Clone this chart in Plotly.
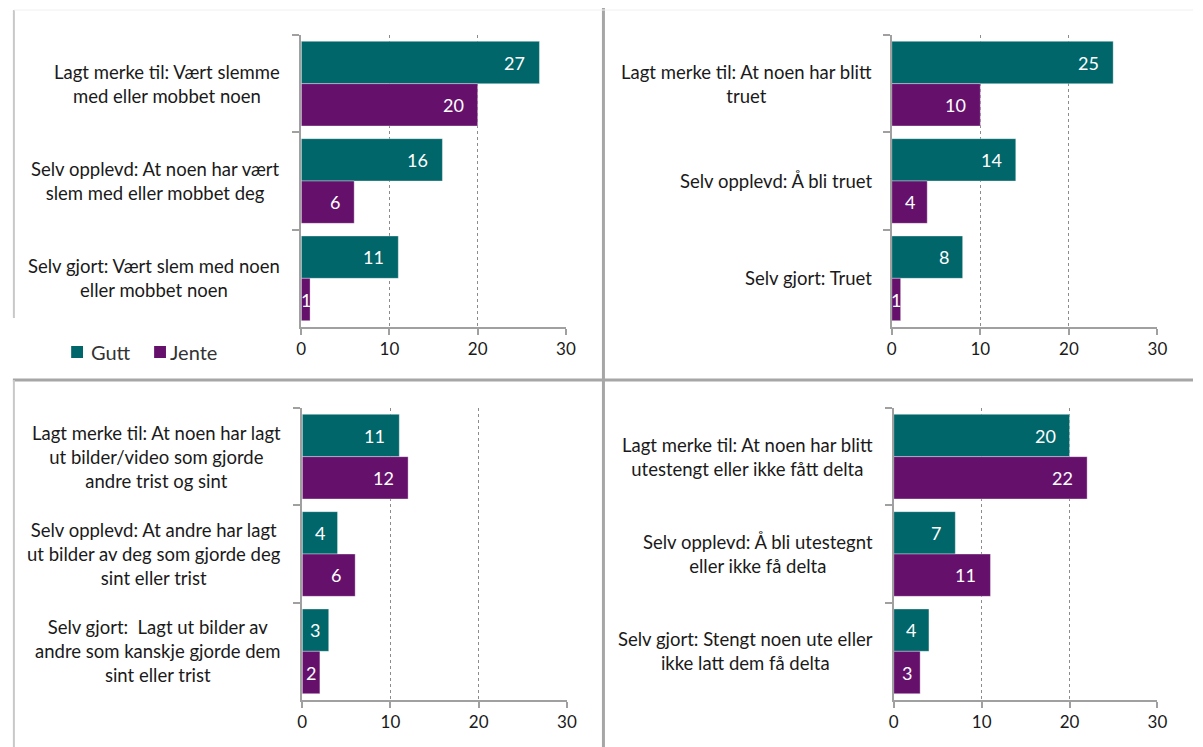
import plotly.graph_objects as go

# ---- data -------------------------------------------------------------
series_names = ["Gutt", "Jente"]
series_colors = ["#00666A", "#65116C"]

cats_a = ["Lagt merke til: Vært slemme<br>med eller mobbet noen",
          "Selv opplevd: At noen har vært<br>slem med eller mobbet deg",
          "Selv gjort: Vært slem med noen<br>eller mobbet noen"]
gutt_a = [27, 16, 11]
jente_a = [20, 6, 1]

cats_b = ["Lagt merke til: At noen har blitt<br>truet",
          "Selv opplevd: Å bli truet",
          "Selv gjort: Truet"]
gutt_b = [25, 14, 8]
jente_b = [10, 4, 1]

cats_c = ["Lagt merke til: At noen har lagt<br>ut bilder/video som gjorde<br>andre trist og sint",
          "Selv opplevd: At andre har lagt<br>ut bilder av deg som gjorde deg<br>sint eller trist",
          "Selv gjort:  Lagt ut bilder av<br>andre som kanskje gjorde dem<br>sint eller trist"]
gutt_c = [11, 4, 3]
jente_c = [12, 6, 2]

cats_d = ["Lagt merke til: At noen har blitt<br>utestengt eller ikke fått delta",
          "Selv opplevd: Å bli utestegnt<br>eller ikke få delta",
          "Selv gjort: Stengt noen ute eller<br>ikke latt dem få delta"]
gutt_d = [20, 7, 4]
jente_d = [22, 11, 3]

x_ticks = [0, 10, 20, 30]

# ---- layout geometry --------------------------------------------------
W, H = 1203, 747
FONT = "Lato"
TEXT = "#1a1a1a"
AXIS = "#a0a0a0"
BARGAP = 0.13


def px_x(p):
    return p / W


def px_y(p):
    return 1 - p / H


panels = [
    # (categories, gutt, jente, x-domain px, y-domain px, label right edge px)
    (cats_a, gutt_a, jente_a, (300, 568), (35, 327), 281),
    (cats_b, gutt_b, jente_b, (898, 1167), (35, 327), 880),
    (cats_c, gutt_c, jente_c, (301, 569), (408, 700), 282),
    (cats_d, gutt_d, jente_d, (900, 1167), (408, 700), 881),
]

fig = go.Figure()
annotations = []
half = (1 - BARGAP) / 4  # offset of each bar centre from the category centre

for i, (cats, gutt, jente, xd, yd, lab_x) in enumerate(panels, start=1):
    sfx = "" if i == 1 else str(i)
    for k, (name, color, vals) in enumerate(zip(series_names, series_colors, [gutt, jente])):
        fig.add_trace(go.Bar(
            x=vals, y=cats, orientation="h", name=name,
            marker=dict(color=color, line=dict(color="rgba(255,255,255,0.6)", width=0.6)),
            xaxis="x" + sfx, yaxis="y" + sfx, showlegend=False,
            hoverinfo="x+y",
        ))
        # value labels at the inner end of each bar
        off = -half if k == 0 else half
        for j, v in enumerate(vals):
            big = v >= 5
            annotations.append(dict(
                text=str(v), xref="x" + sfx, yref="y" + sfx,
                x=v if big else v / 2, y=j + off,
                xanchor="right" if big else "center", xshift=-12 if big else 0,
                yanchor="middle", showarrow=False,
                font=dict(family=FONT, size=18, color="white"),
            ))
    fig.layout["xaxis" + sfx] = dict(
        domain=[px_x(xd[0]), px_x(xd[1])], anchor="y" + sfx,
        range=[0, 30], tickvals=x_ticks, ticks="outside", ticklen=6,
        tickcolor=AXIS, tickwidth=2, showline=True, linecolor=AXIS, linewidth=2,
        showgrid=True, gridcolor="#8c8c8c", griddash="dot", gridwidth=1,
        zeroline=False, tickfont=dict(family=FONT, size=17, color=TEXT),
        fixedrange=True,
    )
    fig.layout["yaxis" + sfx] = dict(
        domain=[px_y(yd[1]), px_y(yd[0])], anchor="x" + sfx,
        type="category", categoryorder="array", categoryarray=cats,
        autorange="reversed", showticklabels=False,
        ticks="outside", tickson="boundaries", ticklen=7, tickcolor=AXIS,
        tickwidth=2, showline=True, linecolor=AXIS, linewidth=2,
        showgrid=False, zeroline=False, fixedrange=True,
    )
    for c in cats:
        annotations.append(dict(
            text=c, x=px_x(lab_x), xref="paper", xanchor="right",
            y=c, yref="y" + sfx, yanchor="middle", align="center",
            showarrow=False, font=dict(family=FONT, size=18.5, color=TEXT),
        ))

# legend drawn under the first panel
legend_items = [(series_names[0], series_colors[0], 67, 85),
                (series_names[1], series_colors[1], 151, 165)]
shapes = []
for name, color, sq_x, tx in legend_items:
    shapes.append(dict(type="rect", xref="paper", yref="paper",
                       x0=px_x(sq_x), x1=px_x(sq_x + 12),
                       y0=px_y(358), y1=px_y(346),
                       fillcolor=color, line=dict(width=0)))
    annotations.append(dict(text=name, x=px_x(tx), xref="paper", xanchor="left",
                            y=px_y(352), yref="paper", yanchor="middle",
                            showarrow=False,
                            font=dict(family=FONT, size=20, color="#333333")))

# panel frame lines
SEP = "#a6a6a6"
shapes += [
    dict(type="line", xref="paper", yref="paper", x0=px_x(606), x1=px_x(606),
         y0=px_y(8), y1=0, line=dict(color=SEP, width=3)),
    dict(type="line", xref="paper", yref="paper", x0=px_x(8), x1=1,
         y0=px_y(380), y1=px_y(380), line=dict(color=SEP, width=3)),
    dict(type="line", xref="paper", yref="paper", x0=px_x(9), x1=px_x(9),
         y0=px_y(10), y1=px_y(318), line=dict(color="#c8c8c8", width=2)),
    dict(type="line", xref="paper", yref="paper", x0=px_x(9), x1=px_x(9),
         y0=px_y(380), y1=0, line=dict(color="#c8c8c8", width=2)),
    dict(type="line", xref="paper", yref="paper", x0=px_x(9), x1=1,
         y0=px_y(10), y1=px_y(10), line=dict(color="#f0f0f0", width=1)),
]

fig.update_layout(
    width=W, height=H, margin=dict(l=0, r=0, t=0, b=0),
    paper_bgcolor="white", plot_bgcolor="white",
    barmode="group", bargap=BARGAP, bargroupgap=0,
    annotations=annotations, shapes=shapes, showlegend=False,
    font=dict(family=FONT, color=TEXT),
)

fig.write_html("out.html")
